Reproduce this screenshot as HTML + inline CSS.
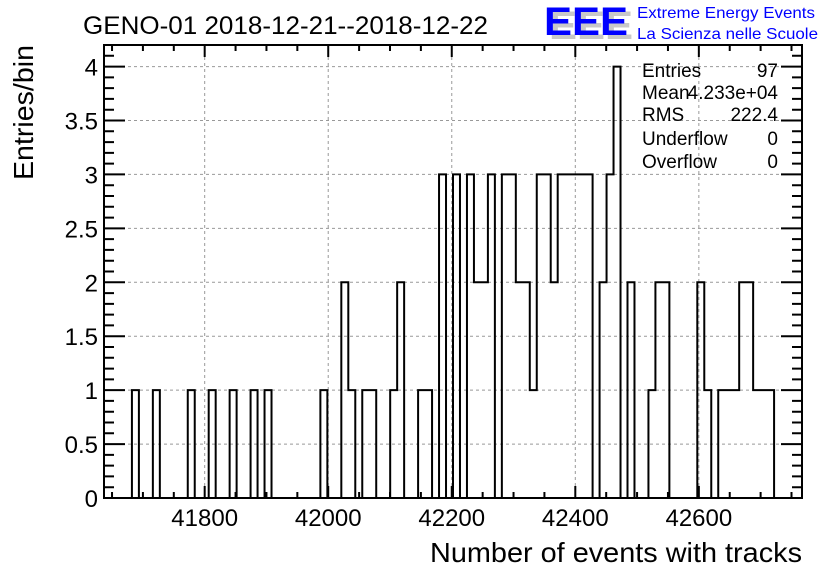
<!DOCTYPE html>
<html><head><meta charset="utf-8"><style>
body{margin:0;background:#fff}
svg{display:block;font-family:"Liberation Sans",Arial,sans-serif}
</style></head><body>
<svg id="chart" width="836" height="572" viewBox="0 0 836 572">
<rect width="836" height="572" fill="#fff"/>
<text x="83" y="34" font-size="25" textLength="405" lengthAdjust="spacingAndGlyphs">GENO-01 2018-12-21--2018-12-22</text>
<g>
<text x="549" y="39" font-size="40" font-weight="bold" fill="#c8c8c8" textLength="84" lengthAdjust="spacingAndGlyphs">EEE</text>
<text x="544" y="35" font-size="40" font-weight="bold" fill="#0000ff" textLength="84" lengthAdjust="spacingAndGlyphs">EEE</text>
<text x="637" y="18" font-size="16" fill="#0000ff" textLength="178" lengthAdjust="spacingAndGlyphs">Extreme Energy Events</text>
<text x="637" y="39" font-size="16" fill="#0000ff" textLength="181" lengthAdjust="spacingAndGlyphs">La Scienza nelle Scuole</text>
</g>
<g id="grid"></g>
<g id="ticks"></g>
<path id="hist" fill="none" stroke="#000" stroke-width="2"/>
<rect x="104" y="45" width="698" height="453" fill="none" stroke="#000" stroke-width="2"/>
<g id="labels"></g>
<g font-size="19">
<text x="642" y="77">Entries</text><text x="778" y="77" text-anchor="end">97</text>
<text x="642" y="99">Mean</text><text x="778" y="99" text-anchor="end">4.233e+04</text>
<text x="642" y="121">RMS</text><text x="778" y="121" text-anchor="end">222.4</text>
<text x="642" y="145">Underflow</text><text x="778" y="145" text-anchor="end">0</text>
<text x="642" y="168">Overflow</text><text x="778" y="168" text-anchor="end">0</text>
</g>
<text x="802" y="562" font-size="28" text-anchor="end" textLength="372" lengthAdjust="spacingAndGlyphs">Number of events with tracks</text>
<text transform="translate(33,180) rotate(-90)" font-size="28" textLength="135" lengthAdjust="spacingAndGlyphs">Entries/bin</text>
</svg>
<script>
const binCounts = [0,0,0,0,1,0,0,1,0,0,0,0,1,0,0,1,0,0,1,0,0,1,0,1,0,0,0,0,0,0,0,1,0,0,2,1,0,1,1,0,0,1,2,0,0,1,1,0,3,0,3,0,3,2,2,3,0,3,3,2,2,1,3,3,2,3,3,3,3,3,0,2,3,4,0,2,0,0,1,2,2,0,0,0,0,2,1,0,1,1,1,2,2,1,1,1,0,0,0,0];
const xRange = [41637, 42767];
const yRange = [0, 4.2];
const xTickLabels = [41800, 42000, 42200, 42400, 42600];
const yTickLabels = [0, 0.5, 1, 1.5, 2, 2.5, 3, 3.5, 4];
const L=104,R=802,T=45,B=498;
const NS="http://www.w3.org/2000/svg";
function sx(v){return L+(v-xRange[0])/(xRange[1]-xRange[0])*(R-L);}
function sy(v){return B-(v-yRange[0])/(yRange[1]-yRange[0])*(B-T);}
function mk(tag,attrs,parent){const e=document.createElementNS(NS,tag);for(const k in attrs)e.setAttribute(k,attrs[k]);parent.appendChild(e);return e;}
const grid=document.getElementById('grid'),ticks=document.getElementById('ticks'),labels=document.getElementById('labels');
xTickLabels.forEach(v=>{const x=sx(v);
 const g=mk('line',{x1:x,x2:x,y1:T,y2:B,stroke:'#999','stroke-dasharray':'3,3','stroke-width':1},grid);
 
 
 const t=mk('text',{x:x,y:526,'font-size':24,'text-anchor':'middle'},labels);t.textContent=v;
 
 
});
yTickLabels.forEach(v=>{const y=sy(v);
 if(v>0){const g=mk('line',{x1:L,x2:R,y1:y,y2:y,stroke:'#999','stroke-dasharray':'3,3','stroke-width':1},grid);
 
 }
 const t=mk('text',{x:98,y:y+9,'font-size':24,'text-anchor':'end'},labels);t.textContent=v;
 
 
});
let d='';
for(let v=Math.ceil(xRange[0]/50)*50;v<=xRange[1];v+=50){const x=sx(v);const len=(v%200===0)?12:6;
 d+=`M${x},${B}V${B-len}M${x},${T}V${T+len}`;}
for(let k=0;k<=42;k++){const v=k/10;const y=sy(v);const len=(k%5===0)?21:10;
 d+=`M${L},${y}H${L+len}M${R},${y}H${R-len}`;}
const tk=mk('path',{d:d,stroke:'#000','stroke-width':2,fill:'none'},ticks);


const n=binCounts.length,w=(xRange[1]-xRange[0])/n;
let p=`M${sx(xRange[0])},${sy(0)}`;
binCounts.forEach((c,i)=>{const x0=sx(xRange[0]+i*w),x1=sx(xRange[0]+(i+1)*w);p+=`L${x0},${sy(c)}L${x1},${sy(c)}`;});
p+=`L${sx(xRange[1])},${sy(0)}`;
document.getElementById('hist').setAttribute('d',p);
</script>
</body></html>
